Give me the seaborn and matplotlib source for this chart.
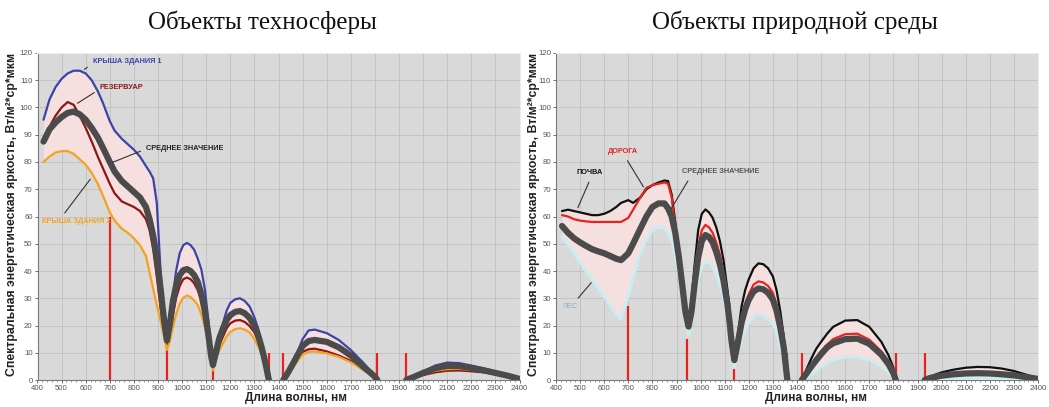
import numpy as np
import pandas as pd
import matplotlib
matplotlib.use("Agg")
import matplotlib.pyplot as plt
import seaborn as sns

# ---------------- data ----------------
wl_seg1 = [425, 450, 475, 500, 525, 550, 575, 600, 625, 650, 670, 700, 720, 750, 775, 800,
           825, 850, 865, 880, 895, 910, 925, 937, 950, 962, 975, 990, 1005, 1020, 1035,
           1050, 1065, 1080, 1095, 1110, 1120, 1128, 1140, 1155, 1170, 1185, 1200, 1220,
           1240, 1260, 1280, 1300, 1315, 1330, 1345, 1360]
wl_seg2 = [1420, 1440, 1460, 1480, 1500, 1525, 1550, 1600, 1650, 1700, 1750, 1780, 1800, 1810]
wl_seg3 = [1930, 1950, 2000, 2050, 2100, 2150, 2200, 2250, 2300, 2350, 2400]

# Technosphere objects
tech_roof1 = [95.5, 103, 107.5, 110.5, 112.5, 113.5, 113.5, 112.5, 110, 106, 102, 95, 91.5, 88.5, 86.5, 84.5,
              82, 78.5, 76.5, 74, 65, 41, 24, 15, 22, 31, 40, 46.5, 49.5, 50.3, 49.5,
              47.8, 44.5, 40.5, 33, 21, 11, 6, 12, 17, 21, 25.5, 28.3, 29.6,
              30, 29, 27, 23, 19, 14, 8.5, 0,
              0, 3, 6.5, 10.5, 15, 18.2, 18.5, 17.2, 14.7, 11, 6.5, 3.5, 1.5, 0,
              0, 0.8, 3, 5.3, 6.4, 6.2, 5.3, 4.3, 3, 1.8, 0.5]
tech_reservoir = [87, 93, 97, 100, 102, 101, 97, 92.5, 87.5, 82, 78, 72, 68.5, 65.5, 64.5, 63.5,
                  62, 59, 55, 48, 38, 27, 18, 12, 17, 24, 30, 34.5, 37, 37.6, 37,
                  35.5, 33, 29, 23, 14, 8, 5, 9, 13, 16, 19, 20.8, 21.8,
                  22, 21.3, 19.8, 17.5, 14.5, 10.5, 5.5, 0,
                  0, 2.3, 5, 7.8, 10.3, 11.3, 11.5, 10.5, 9, 7, 4, 2.2, 1, 0,
                  0, 0.5, 1.8, 2.8, 3.4, 3.5, 3.2, 2.8, 2.1, 1.3, 0.3]
tech_mean = [87.5, 92, 94.5, 96.5, 98, 98.5, 97.5, 95.5, 92.5, 89, 85.5, 80, 76.5, 73, 71, 69,
             67, 63.5, 59, 53, 45, 34, 22, 14.5, 21, 29, 34.5, 38.5, 40.3, 40.7, 40,
             38.5, 36, 31.5, 25, 16, 9, 5.5, 10, 15.5, 19, 22, 23.8, 25,
             25.3, 24.5, 22.8, 20, 16.5, 12, 6.5, 0,
             0, 2.8, 6, 9.3, 12.5, 14.3, 14.7, 14, 12, 9, 5, 2.8, 1.2, 0,
             0, 0.7, 2.6, 4.3, 5.2, 5.1, 4.4, 3.6, 2.6, 1.6, 0.4]
tech_roof2 = [80, 82, 83.5, 84, 84, 83, 81, 79, 76, 72, 68, 61.5, 58.5, 55.5, 54, 52,
              49.5, 45.5, 39.5, 33.5, 27.5, 22, 16, 11, 14.5, 19.5, 24, 28, 30.2, 31, 30.5,
              29.2, 27.5, 24, 19.5, 13, 7, 3.5, 7.5, 11, 13.5, 16, 17.6, 18.7,
              19, 18.5, 17.5, 15, 12.5, 9.5, 5, 0,
              0, 2, 4.5, 7, 9.3, 10.3, 10.5, 9.8, 8.5, 6.5, 3.8, 2, 0.9, 0,
              0, 0.6, 2.2, 3.4, 4, 4.1, 3.7, 3.2, 2.4, 1.5, 0.4]

# Natural environment objects
nat_soil = [62, 62.5, 62, 61.5, 61, 60.5, 60.5, 61, 62, 63.5, 65, 66, 65, 67, 70, 71.5,
            72.5, 73.2, 73, 68, 58, 45, 32, 22, 21.5, 29, 42, 55, 61, 62.6, 61.5,
            59.5, 56, 51, 44, 34, 27, 18, 7.5, 17, 27, 33, 37, 41,
            42.8, 42.5, 41, 38, 33, 25.5, 16, 0,
            0, 4, 8, 11.5, 14, 17, 19.5, 21.8, 22, 19.5, 14, 9, 4.5, 0,
            0, 1.2, 2.8, 3.8, 4.5, 4.8, 4.7, 4.2, 3.3, 2.0, 0.6]
nat_road = [60.5, 60, 59, 58.5, 58.2, 58, 58, 58, 58, 58, 58, 59.5, 62.5, 67, 70.5, 71.5,
            72, 72.5, 72, 67, 56, 43, 30, 22, 21, 27, 38, 49, 55, 56.9, 56,
            54, 50.5, 46, 39.5, 31, 24, 16, 7.5, 15, 22.5, 28, 31.5, 35,
            36.2, 35.8, 34.5, 32, 27.5, 21.5, 13, 0,
            0, 2.8, 5.5, 8, 10.5, 13, 15, 16.8, 17, 14.8, 10.5, 6.5, 3, 0,
            0, 0.8, 1.8, 2.4, 2.7, 2.8, 2.7, 2.4, 1.9, 1.2, 0.4]
nat_mean = [56.5, 54, 52, 50.5, 49.2, 48, 47.2, 46.5, 45.5, 44.5, 44, 46.5, 50, 55.5, 60, 63.5,
            64.8, 64.8, 63, 60, 54, 45, 34, 25, 19.6, 25, 35, 45, 51, 53.2, 52.5,
            50.5, 47, 42.5, 36.5, 28.5, 21.5, 14.5, 7.3, 14, 21, 26, 29.5, 32.5,
            33.6, 33.3, 32, 29.5, 25.5, 19.5, 12, 0,
            0, 2.5, 5, 7.3, 9.5, 12, 13.5, 15, 15.2, 13.3, 9.3, 5.8, 2.5, 0,
            0, 0.7, 1.6, 2.1, 2.4, 2.5, 2.4, 2.1, 1.7, 1.1, 0.4]
nat_forest = [52.5, 49.7, 46.5, 43.3, 40, 37, 33.8, 30.6, 27.4, 24.2, 22.5, 31, 38, 46.5, 51.5, 55,
              56.3, 55.8, 54, 51.4, 46, 39, 30, 22, 16.5, 21, 29, 37, 41.5, 43.4, 43,
              41.5, 39, 35, 30, 23, 17, 11.5, 5, 10.5, 15, 18.5, 21, 23.2,
              24, 23.8, 22.5, 20.5, 17.5, 13, 8, 0,
              0, 1, 2, 3.5, 5, 6.5, 7.5, 8.4, 8.5, 7.4, 5, 3, 1.3, 0,
              0, 0.1, 0.3, 0.4, 0.5, 0.5, 0.5, 0.4, 0.3, 0.2, 0.1]

# absorption band markers
band_wl_tech = [700, 937, 1128, 1360, 1420, 1810, 1930]
band_h_tech = [60, 11, 8, 10, 10, 10, 10]
band_wl_nat = [700, 945, 1138, 1360, 1420, 1810, 1930]
band_h_nat = [27, 15, 4, 10, 10, 10, 10]

x_ticks = list(range(400, 2401, 100))
y_ticks = list(range(0, 121, 10))

# ---------------- build tables ----------------
wl_all = wl_seg1 + wl_seg2 + wl_seg3
seg_all = [1] * len(wl_seg1) + [2] * len(wl_seg2) + [3] * len(wl_seg3)


def long_table(series):
    rows = []
    for name, vals in series.items():
        for w, s, v in zip(wl_all, seg_all, vals):
            rows.append((name, w, s, v))
    return pd.DataFrame(rows, columns=["series", "wl", "segment", "value"])


tech = {"roof1": tech_roof1, "reservoir": tech_reservoir, "roof2": tech_roof2, "mean": tech_mean}
nat = {"soil": nat_soil, "road": nat_road, "forest": nat_forest, "mean": nat_mean}
df_tech = long_table(tech)
df_nat = long_table(nat)

# ---------------- style ----------------
sns.set_style("whitegrid", {
    "axes.facecolor": "#d9d9d9",
    "grid.color": "#c4c4c4",
    "axes.edgecolor": "#8a8a8a",
})
plt.rcParams["font.family"] = ["Liberation Sans", "DejaVu Sans"]

fig = plt.figure(figsize=(10.49, 4.07), dpi=100)
ax1 = fig.add_axes([37.5 / 1049, 0.0663, 482 / 1049, 0.8035])
ax2 = fig.add_axes([556 / 1049, 0.0663, 482 / 1049, 0.8035])

FILL = "#f6dfdf"
BAND = "#e8231f"


def draw_panel(ax, df, styles, band_wl, band_h):
    piv = df.pivot_table(index=["segment", "wl"], columns="series", values="value").reset_index()
    for seg, g in piv.groupby("segment"):
        vals = g[list(styles.keys())]
        ax.fill_between(g["wl"], vals.min(axis=1), vals.max(axis=1), color=FILL, zorder=1, lw=0)
    ax.vlines(band_wl, 0, band_h, color=BAND, lw=1.6, zorder=2)
    for name, (color, lw) in styles.items():
        sns.lineplot(data=df[df.series == name], x="wl", y="value", units="segment",
                     estimator=None, sort=False, color=color, linewidth=lw,
                     ax=ax, legend=False, zorder=3 if name != "mean" else 4)
    ax.set_xlim(400, 2400)
    ax.set_ylim(0, 120)
    ax.set_xticks(x_ticks)
    ax.set_yticks(y_ticks)
    ax.set_xticks(range(400, 2401, 20), minor=True)
    ax.tick_params(axis="both", which="major", labelsize=5.6, colors="#555555", length=2, width=0.6, pad=1.5)
    ax.tick_params(axis="x", which="minor", length=1.5, width=0.5, colors="#777777")
    ax.tick_params(axis="both", which="both", bottom=True, left=True)
    ax.grid(True, which="major", color="#c4c4c4", lw=0.7)
    ax.grid(False, which="minor")
    ax.set_xlabel("")
    ax.set_ylabel("")
    for sp in ["top", "right"]:
        ax.spines[sp].set_color("#ececec")
    for sp in ["left", "bottom"]:
        ax.spines[sp].set_color("#7a7a7a")
        ax.spines[sp].set_linewidth(0.8)


tech_styles = {
    "roof1": ("#3a44a8", 1.6),
    "reservoir": ("#8e1616", 1.6),
    "roof2": ("#f4a21f", 1.6),
    "mean": ("#4b4b4b", 4.5),
}
nat_styles = {
    "forest": ("#c9eef2", 2.2),
    "soil": ("#101010", 1.6),
    "road": ("#e52420", 1.6),
    "mean": ("#4b4b4b", 4.5),
}
draw_panel(ax1, df_tech, tech_styles, band_wl_tech, band_h_tech)
draw_panel(ax2, df_nat, nat_styles, band_wl_nat, band_h_nat)

# ---------------- annotations ----------------
LEAD = dict(arrowstyle="-", color="#333333", lw=0.8)
afs = 5.3


def note(ax, text, xy, xytext, color, rel, bold=True):
    ax.annotate(text, xy=xy, xytext=xytext, fontsize=afs, color=color,
                fontweight="bold" if bold else "normal", ha="left", va="center",
                arrowprops=dict(LEAD, relpos=rel), zorder=6)


note(ax1, "КРЫША ЗДАНИЯ 1", (585, 113.4), (630, 116.7), "#3a44a8", (0.0, 0.3))
note(ax1, "РЕЗЕРВУАР", (556, 101), (659, 107.3), "#8e1616", (0.0, 0.3))
note(ax1, "СРЕДНЕЕ ЗНАЧЕНИЕ", (701, 79.5), (852, 85.1), "#222222", (0.0, 0.4))
note(ax1, "КРЫША ЗДАНИЯ 2", (626, 74.5), (419, 58), "#f4a21f", (0.27, 1.0))

note(ax2, "ДОРОГА", (769, 70), (616, 83.8), "#e52420", (0.53, 0.0))
note(ax2, "ПОЧВА", (486, 62.3), (487, 76), "#111111", (0.55, 0.0))
note(ax2, "СРЕДНЕЕ ЗНАЧЕНИЕ", (872, 62), (923, 76.4), "#555555", (0.12, 0.0))
note(ax2, "ЛЕС", (554, 36.5), (429, 26.8), "#86bcc2", (0.7, 1.0), bold=False)

# ---------------- texts ----------------
title_kw = dict(family=["Liberation Serif", "DejaVu Serif"], fontsize=18, color="#111111",
                ha="center", va="center")
fig.text(262 / 1049, 1 - 22 / 407, "Объекты техносферы", **title_kw)
fig.text(795 / 1049, 1 - 22 / 407, "Объекты природной среды", **title_kw)

ylab = "Спектральная энергетическая яркость, Вт/м²*ср*мкм"
for xpx in (12.5, 534):
    fig.text(xpx / 1049, 1 - 214 / 407, ylab, rotation=90, fontsize=8.8, fontweight="bold",
             color="#222222", ha="center", va="center")
for xpx in (296, 816):
    fig.text(xpx / 1049, 1 - 398 / 407, "Длина волны, нм", fontsize=8.5, fontweight="bold",
             color="#222222", ha="center", va="center")

fig.savefig("out.png", dpi=100)
